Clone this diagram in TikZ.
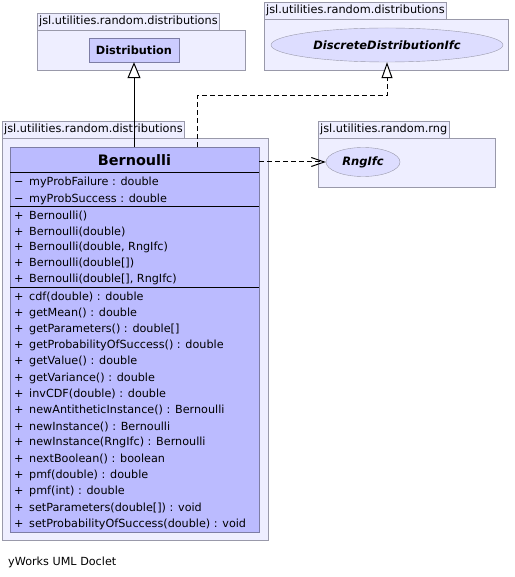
\documentclass[tikz,border=0pt]{standalone}
\usepackage{fontspec}
\setmainfont{DejaVu Sans}
\usepackage{tikz}
\usetikzlibrary{positioning, arrows.meta, shapes.geometric}
\definecolor{PkgFill}{RGB}{238,238,255}
\definecolor{PkgLine}{RGB}{153,153,170}
\definecolor{ClassFill}{RGB}{187,187,255}
\definecolor{ClassLine}{RGB}{125,125,165}
\definecolor{RefFill}{RGB}{204,204,255}
\definecolor{IfcFill}{RGB}{221,221,255}
\newcommand{\vis}[1]{\makebox[15pt][l]{#1}}
\tikzset{
  pkgtab/.style={draw=PkgLine, fill=PkgFill, anchor=north west, minimum height=17pt,
    inner xsep=2pt, inner ysep=0pt, font=\fontsize{11.3}{13}\selectfont},
  pkgbody/.style={draw=PkgLine, fill=PkgFill, anchor=north west, inner sep=0pt},
  refclass/.style={draw=ClassLine, fill=RefFill, inner sep=0pt, font=\fontsize{11.3}{13}\selectfont\bfseries},
  ifcnode/.style={ellipse, draw=PkgLine, fill=IfcFill, inner sep=0pt,
    font=\fontsize{11.5}{13}\selectfont\bfseries\itshape},
  classbox/.style={draw=ClassLine, fill=ClassFill, anchor=north west, inner sep=0pt},
  classname/.style={font=\fontsize{14.4}{16}\selectfont\bfseries, inner sep=0pt},
  member/.style={anchor=west, inner sep=0pt, font=\fontsize{11.2}{13}\selectfont},
  sepline/.style={line width=1pt, black},
  generalize/.style={-{Triangle[length=16pt, width=13pt, fill=white]}, line width=1pt},
  realize/.style={-{Triangle[length=16pt, width=11pt, fill=white]}, line width=1pt, dash pattern=on 5pt off 3pt},
  usedep/.style={-{Straight Barb[length=13pt, width=9pt]}, line width=1pt, dash pattern=on 5pt off 3pt},
}

\begin{document}
\begin{tikzpicture}[x=1pt, y=-1pt]
    \useasboundingbox (0,0) rectangle (514,577);
    % packages
    \node[pkgtab] (pd1tab) at (37,13) {jsl.utilities.random.distributions};
    \node[pkgbody, minimum width=208pt, minimum height=40pt] (pd1) at (pd1tab.south west) {};
    \node[pkgtab] (pd2tab) at (264,2) {jsl.utilities.random.distributions};
    \node[pkgbody, minimum width=244pt, minimum height=51pt] (pd2) at (pd2tab.south west) {};
    \node[pkgtab] (prngtab) at (318,121) {jsl.utilities.random.rng};
    \node[pkgbody, minimum width=177pt, minimum height=49pt] (prng) at (prngtab.south west) {};
    \node[pkgtab] (pd3tab) at (2,121) {jsl.utilities.random.distributions};
    \node[pkgbody, minimum width=266pt, minimum height=402pt] (pd3) at (pd3tab.south west) {};

    \node[refclass, minimum width=90pt, minimum height=24pt] (dist) at (134,50) {Distribution};
    \node[ifcnode, minimum width=232pt, minimum height=34pt] (ifc) at (387,45) {DiscreteDistributionIfc};
    \node[ifcnode, minimum width=74pt, minimum height=29pt] (rng) at (363,162) {RngIfc};

    % the class
    \node[classbox, minimum width=249pt, minimum height=385pt] (bern) at (10,147) {};
    \node[classname] (bernname) at (134.5,160) {Bernoulli};
    \foreach \y in {173,206,287}
      \draw[sepline] (bern.west |- 0,\y) -- (bern.east |- 0,\y);
    \foreach \txt [count=\i from 0] in {{myProbFailure : double}, {myProbSuccess : double}}
      \node[member] (attr\i) at (14,182.5+16.5*\i) {\vis{−}\txt};
    \foreach \txt [count=\i from 0] in {{Bernoulli()}, {Bernoulli(double)}, {Bernoulli(double, RngIfc)},
        {Bernoulli(double[])}, {Bernoulli(double[], RngIfc)}}
      \node[member] (ctor\i) at (14,216+15.8*\i) {\vis{+}\txt};
    \foreach \txt [count=\i from 0] in {{cdf(double) : double}, {getMean() : double},
        {getParameters() : double[]}, {getProbabilityOfSuccess() : double}, {getValue() : double},
        {getVariance() : double}, {invCDF(double) : double}, {newAntitheticInstance() : Bernoulli},
        {newInstance() : Bernoulli}, {newInstance(RngIfc) : Bernoulli}, {nextBoolean() : boolean},
        {pmf(double) : double}, {pmf(int) : double}, {setParameters(double[]) : void},
        {setProbabilityOfSuccess(double) : void}}
      \node[member] (meth\i) at (14,297+16.21*\i) {\vis{+}\txt};

    % relations
    \draw[generalize] (dist.south |- bern.north) -- (dist.south);
    \coordinate (bend) at (197,96);
    \draw[realize] (bern.north -| bend) -- (bend) -| (ifc.south);
    \draw[usedep] (bern.east |- rng.west) -- (rng.west);

    \node[member] (doclet) at (8,562) {yWorks UML Doclet};
  \end{tikzpicture}
\end{document}
